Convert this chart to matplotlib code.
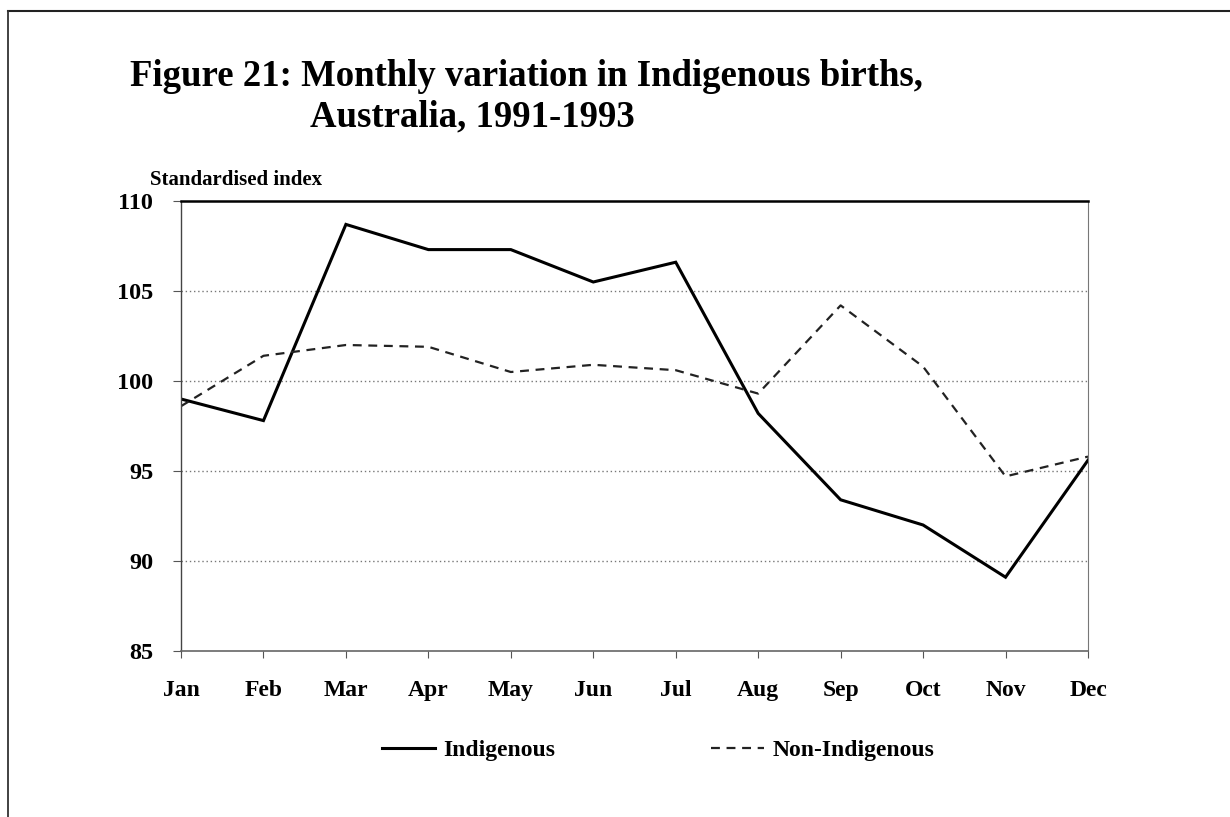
import matplotlib
matplotlib.use("Agg")
import matplotlib.pyplot as plt
from matplotlib.lines import Line2D

months = ["Jan", "Feb", "Mar", "Apr", "May", "Jun", "Jul", "Aug", "Sep", "Oct", "Nov", "Dec"]
indigenous = [99.0, 97.8, 108.7, 107.3, 107.3, 105.5, 106.6, 98.2, 93.4, 92.0, 89.1, 95.6]
non_indigenous = [98.6, 101.4, 102.0, 101.9, 100.5, 100.9, 100.6, 99.3, 104.2, 100.8, 94.7, 95.8]
y_ticks = [85, 90, 95, 100, 105, 110]

plt.rcParams['font.family'] = ['Liberation Serif', 'DejaVu Serif']
plt.rcParams['font.weight'] = 'bold'

fig = plt.figure(figsize=(12.3, 8.17), dpi=100)
fig.patch.set_facecolor('white')
ax = fig.add_axes([181/1230, 1 - 651/817, (1088-181)/1230, (651-201)/817])

x = list(range(len(months)))
ax.plot(x, indigenous, color='black', lw=2.2, label='Indigenous', solid_joinstyle='miter')
ax.plot(x, non_indigenous, color='#222222', lw=1.6, linestyle=(0, (4, 3)), label='Non-Indigenous')

ax.set_xlim(0, 11)
ax.set_ylim(85, 110)
ax.set_xticks(x)
ax.set_xticklabels(months, fontsize=17, fontweight='bold')
ax.set_yticks(y_ticks)
ax.set_yticklabels([str(v) for v in y_ticks], fontsize=17.5, fontweight='bold')
ax.tick_params(axis='x', direction='out', length=5, width=0.8, color='#555555', pad=16)
ax.tick_params(axis='y', direction='out', length=6, width=0.8, color='#555555', pad=14)

for v in [90, 95, 100, 105]:
    ax.axhline(v, color='#777777', lw=1.0, linestyle=(0, (1, 2)), zorder=0)

ax.spines['top'].set_color('black')
ax.spines['top'].set_linewidth(1.8)
ax.spines['left'].set_color('#444444')
ax.spines['left'].set_linewidth(1.0)
ax.spines['bottom'].set_color('#666666')
ax.spines['bottom'].set_linewidth(1.2)
ax.spines['right'].set_color('#777777')
ax.spines['right'].set_linewidth(0.8)

fig.text(130/1230, 1 - 86/817, "Figure 21: Monthly variation in Indigenous births,",
         fontsize=26.5, fontweight='bold', ha='left', va='baseline')
fig.text(310/1230, 1 - 126/817, "Australia, 1991-1993",
         fontsize=26.5, fontweight='bold', ha='left', va='baseline')
fig.text(150/1230, 1 - 185/817, "Standardised index",
         fontsize=15, fontweight='bold', ha='left', va='baseline')

leg = fig.legend(loc='center left', bbox_to_anchor=(382/1230, 1 - 750/817), ncol=2,
                 frameon=False, fontsize=17, handlelength=2.25, handletextpad=0.34,
                 columnspacing=6.6, borderaxespad=0, borderpad=0)
for t in leg.get_texts():
    t.set_fontweight('bold')

fig.add_artist(Line2D([8/1230, 1.0], [1 - 11/817, 1 - 11/817], transform=fig.transFigure,
                      color='#222222', lw=1.5))
fig.add_artist(Line2D([8/1230, 8/1230], [1 - 11/817, 0.0], transform=fig.transFigure,
                      color='#333333', lw=1.3))

fig.savefig("out.png", dpi=100, facecolor='white')
